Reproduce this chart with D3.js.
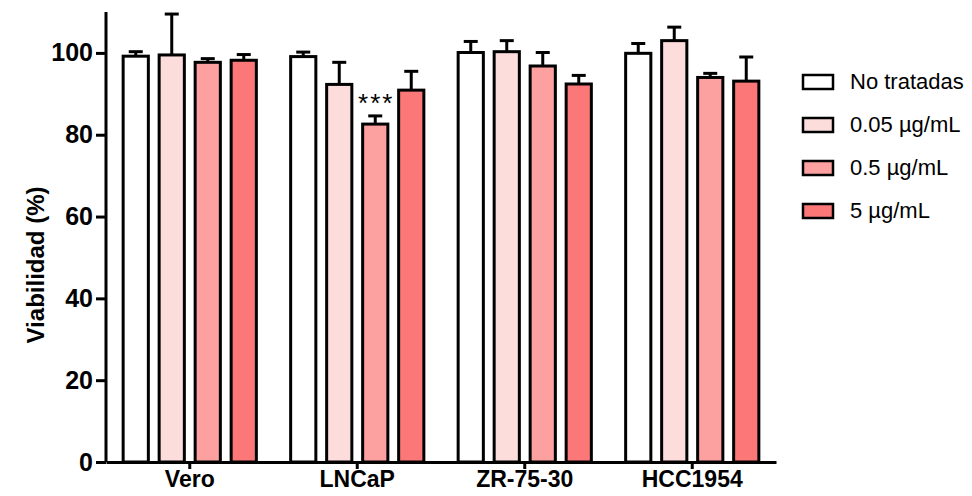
<!DOCTYPE html>
<html>
<head>
<meta charset="utf-8">
<script src="https://cdn.jsdelivr.net/npm/d3@7"></script>
<style>
    body { margin: 0; background: #fff; }
    svg { display: block; font-family: "Liberation Sans", Arial, sans-serif; }
</style>
</head>
<body>
<svg id="chart" width="972" height="496"></svg>
<script>
// Cell lines on the x axis
const cellLines = ["Vero", "LNCaP", "ZR-75-30", "HCC1954"];

// Treatments (legend order)
const treatments = ["No tratadas", "0.05 µg/mL", "0.5 µg/mL", "5 µg/mL"];
const treatmentColors = ["#ffffff", "#fddcdc", "#fca0a0", "#fc7878"];

// Mean viability per cell line, one array per treatment
const noTratadas = [99.2, 99.1, 100.1, 99.9];
const dose005 = [99.5, 92.3, 100.3, 103.0];
const dose05 = [97.7, 82.6, 96.8, 94.0];
const dose5 = [98.2, 90.9, 92.4, 93.1];

// Upper error (SD) per cell line, one array per treatment
const errNoTratadas = [1.1, 1.1, 2.7, 2.4];
const err005 = [10.0, 5.4, 2.7, 3.3];
const err05 = [0.9, 2.0, 3.3, 1.0];
const err5 = [1.4, 4.6, 2.1, 5.9];

// Significance marks
const stars = [{ line: "LNCaP", treatment: "0.5 µg/mL", label: "***" }];

// Y axis ticks
const yTicks = [0, 20, 40, 60, 80, 100];

const means = [noTratadas, dose005, dose05, dose5];
const errors = [errNoTratadas, err005, err05, err5];

// Build flat rows for drawing
let rows = [];
cellLines.forEach(function (line, i) {
    treatments.forEach(function (t, j) {
        rows.push({ line: line, treatment: t, value: means[j][i], err: errors[j][i], color: treatmentColors[j] });
    });
});

let svg = d3.select("#chart");

let margin = { top: 12, right: 196, bottom: 34, left: 106 };
let width = 972 - margin.left - margin.right;
let height = 496 - margin.top - margin.bottom;

let g = svg.append("g").attr("transform", "translate(" + margin.left + "," + margin.top + ")");

// Scales
let x0 = d3.scaleBand().domain(cellLines).range([0, width]).padding(0);
let x1 = d3.scaleBand().domain(treatments)
    .range([x0.bandwidth() / 2 - 72, x0.bandwidth() / 2 + 72])
    .paddingInner(0.3).paddingOuter(0.15);
let y = d3.scaleLinear().domain([0, 110]).range([height, 0]);

// Error bars (drawn first, bar covers lower part)
let errG = g.append("g").selectAll("g").data(rows).enter().append("g")
    .attr("transform", function (d) { return "translate(" + (x0(d.line) + x1(d.treatment) + x1.bandwidth() / 2) + ",0)"; });
errG.append("line")
    .attr("y1", function (d) { return y(d.value); })
    .attr("y2", function (d) { return y(d.value + d.err); })
    .attr("stroke", "#000").attr("stroke-width", 3);
errG.append("line")
    .attr("x1", -7).attr("x2", 7)
    .attr("y1", function (d) { return y(d.value + d.err); })
    .attr("y2", function (d) { return y(d.value + d.err); })
    .attr("stroke", "#000").attr("stroke-width", 3);

// Bars
g.append("g").selectAll("rect").data(rows).enter().append("rect")
    .attr("x", function (d) { return x0(d.line) + x1(d.treatment); })
    .attr("y", function (d) { return y(d.value); })
    .attr("width", x1.bandwidth())
    .attr("height", function (d) { return height - y(d.value); })
    .attr("fill", function (d) { return d.color; })
    .attr("stroke", "#000")
    .attr("stroke-width", 3);

// Significance stars
g.append("g").selectAll("text").data(stars).enter().append("text")
    .attr("x", function (d) { return x0(d.line) + x1(d.treatment) + x1.bandwidth() / 2 + 1; })
    .attr("y", function (d) {
        let r = rows.find(function (o) { return o.line === d.line && o.treatment === d.treatment; });
        return y(r.value + r.err) - 4;
    })
    .attr("text-anchor", "middle")
    .attr("font-size", "26px")
    .attr("letter-spacing", "2px")
    .text(function (d) { return d.label; });

// Y axis
let yAxis = g.append("g")
    .call(d3.axisLeft(y).tickValues(yTicks).tickSize(10).tickPadding(3));
yAxis.select(".domain").attr("stroke-width", 3).attr("d", "M0," + height + "V" + y(110));
yAxis.selectAll(".tick line").attr("stroke-width", 3);
yAxis.selectAll(".tick text")
    .attr("font-size", "25px").attr("font-weight", "bold")
    .attr("font-family", "'Liberation Sans', Arial, sans-serif").attr("fill", "#000");

// X axis
let xAxis = g.append("g").attr("transform", "translate(0," + height + ")")
    .call(d3.axisBottom(x0).tickSize(7).tickSizeOuter(0).tickPadding(2));
xAxis.select(".domain").attr("stroke-width", 3);
xAxis.selectAll(".tick line").attr("stroke-width", 3);
xAxis.selectAll(".tick text")
    .attr("font-size", "23px").attr("font-weight", "bold")
    .attr("font-family", "'Liberation Sans', Arial, sans-serif").attr("fill", "#000");

// Y axis title
svg.append("text")
    .attr("transform", "translate(44,265) rotate(-90)")
    .attr("text-anchor", "middle")
    .attr("font-size", "24px")
    .attr("font-weight", "bold")
    .text("Viabilidad (%)");

// Legend
let legend = svg.append("g").attr("transform", "translate(803,75)");
let item = legend.selectAll("g").data(treatments).enter().append("g")
    .attr("transform", function (d, i) { return "translate(0," + (i * 43) + ")"; });
item.append("rect")
    .attr("width", 30).attr("height", 14)
    .attr("fill", function (d, i) { return treatmentColors[i]; })
    .attr("stroke", "#000").attr("stroke-width", 2.5);
item.append("text")
    .attr("x", 47).attr("y", 14)
    .attr("font-size", "22px")
    .text(function (d) { return d; });
</script>
</body>
</html>
